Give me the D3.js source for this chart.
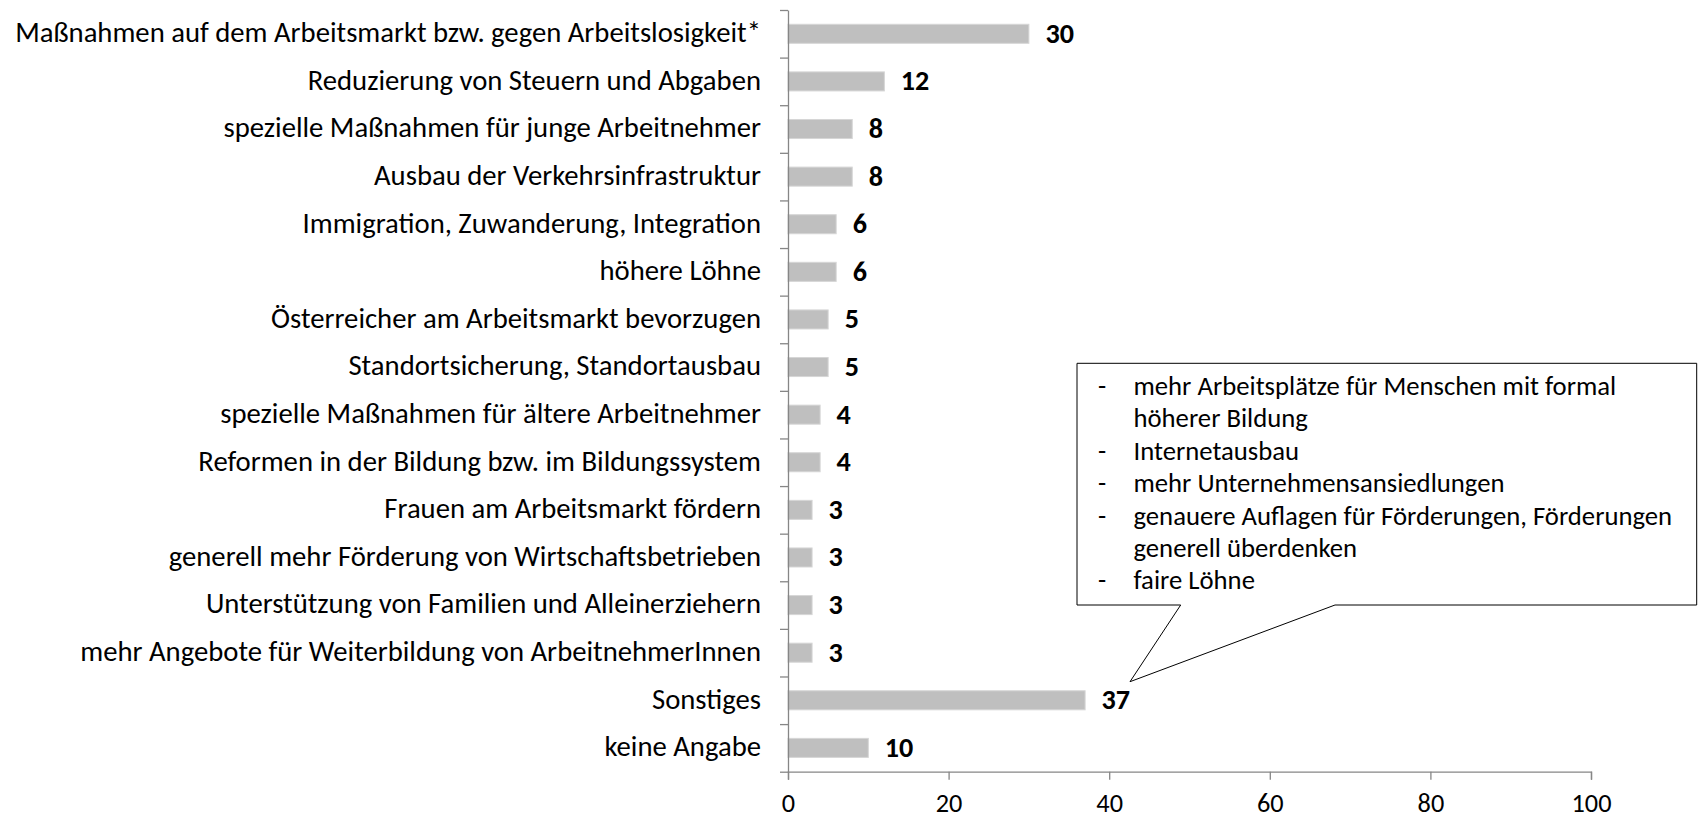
<!DOCTYPE html>
<html>
<head>
<meta charset="utf-8">
<script src="https://cdn.jsdelivr.net/npm/d3@7"></script>
<style>
  html, body { margin: 0; padding: 0; background: #fff; overflow: hidden; }
  svg { display: block; }
  text { font-family: Carlito, Calibri, Lato, "Open Sans", sans-serif; fill: #000; }
</style>
</head>
<body>
<svg id="chart" width="1701" height="820"></svg>
<script>
// ---- data ----
const categories = [
  "Maßnahmen auf dem Arbeitsmarkt bzw. gegen Arbeitslosigkeit*",
  "Reduzierung von Steuern und Abgaben",
  "spezielle Maßnahmen für junge Arbeitnehmer",
  "Ausbau der Verkehrsinfrastruktur",
  "Immigration, Zuwanderung, Integration",
  "höhere Löhne",
  "Österreicher am Arbeitsmarkt bevorzugen",
  "Standortsicherung, Standortausbau",
  "spezielle Maßnahmen für ältere Arbeitnehmer",
  "Reformen in der Bildung bzw. im Bildungssystem",
  "Frauen am Arbeitsmarkt fördern",
  "generell mehr Förderung von Wirtschaftsbetrieben",
  "Unterstützung von Familien und Alleinerziehern",
  "mehr Angebote für Weiterbildung von ArbeitnehmerInnen",
  "Sonstiges",
  "keine Angabe"
];
const values = [30, 12, 8, 8, 6, 6, 5, 5, 4, 4, 3, 3, 3, 3, 37, 10];
const xTicks = [0, 20, 40, 60, 80, 100];
const calloutBullets = ["-", "", "-", "-", "-", "", "-"];
const calloutLines = [
  "mehr Arbeitsplätze für Menschen mit formal",
  "höherer Bildung",
  "Internetausbau",
  "mehr Unternehmensansiedlungen",
  "genauere Auflagen für Förderungen, Förderungen",
  "generell überdenken",
  "faire Löhne"
];

// ---- layout ----
const plot = { left: 788, right: 1591, top: 10, bottom: 771.7 };
const svg = d3.select("#chart");

const x = d3.scaleLinear().domain([0, 100]).range([plot.left, plot.right]);
const y = d3.scaleBand().domain(categories).range([plot.top, plot.bottom]).padding(0);
const yIdx = d3.scaleLinear().domain([0, categories.length]).range([plot.top, plot.bottom]);
const barFrac = 0.4;

function fitFont(sel, node, target) {
  sel.style("font-size", "100px");
  const w = node.getComputedTextLength();
  const size = 100 * target / w;
  sel.style("font-size", size + "px");
  return size;
}

// bars
svg.append("g").selectAll("rect")
  .data(values)
  .join("rect")
  .attr("x", x(0))
  .attr("y", (d, i) => y(categories[i]) + y.bandwidth() * (1 - barFrac) / 2)
  .attr("width", d => x(d) - x(0))
  .attr("height", y.bandwidth() * barFrac)
  .attr("fill", "#bfbfbf")
  .attr("stroke", "#d6d6d6")
  .attr("stroke-width", 1);

// y axis (ticks between categories)
const yAxis = svg.append("g")
  .attr("transform", `translate(${plot.left},0)`)
  .call(d3.axisLeft(yIdx).tickValues(d3.range(0, categories.length + 1)).tickFormat("").tickSize(8).tickSizeOuter(0));
yAxis.selectAll("path, line").attr("stroke", "#868686").attr("stroke-width", 1.3);

// x axis
const xAxis = svg.append("g")
  .attr("transform", `translate(0,${plot.bottom})`)
  .call(d3.axisBottom(x).tickValues(xTicks).tickSize(8).tickSizeOuter(8).tickPadding(0));
xAxis.selectAll("path, line").attr("stroke", "#868686").attr("stroke-width", 1.3);
const xt = xAxis.selectAll(".tick text")
  .attr("y", 40.5).attr("dy", 0)
  .attr("fill", "#000")
  .style("font-family", "Carlito, Calibri, Lato, sans-serif");
fitFont(xt, xt.filter(d => d === 100).node(), 40);

// category labels
const catLabels = svg.append("g").selectAll("text")
  .data(categories)
  .join("text")
  .attr("x", plot.left - 27)
  .attr("y", d => y(d) + y.bandwidth() / 2 + 8.3)
  .attr("text-anchor", "end")
  .text(d => d);
fitFont(catLabels, catLabels.filter((d, i) => i === 0).node(), 746);

// value labels
const valLabels = svg.append("g").selectAll("text")
  .data(values)
  .join("text")
  .attr("x", d => x(d) + 16.5)
  .attr("y", (d, i) => y(categories[i]) + y.bandwidth() / 2 + 9)
  .style("font-weight", "bold")
  .text(d => d);
fitFont(valLabels, valLabels.filter((d, i) => i === 0).node(), 28.5);

// callout
const box = { left: 1077, top: 363.3, right: 1696.7, bottom: 605 };
const pointer = { baseL: 1180.7, baseR: 1335, tipX: 1130, tipY: 681.7 };
const p = d3.path();
p.moveTo(box.left, box.top);
p.lineTo(box.right, box.top);
p.lineTo(box.right, box.bottom);
p.lineTo(pointer.baseR, box.bottom);
p.lineTo(pointer.tipX, pointer.tipY);
p.lineTo(pointer.baseL, box.bottom);
p.lineTo(box.left, box.bottom);
p.closePath();
svg.append("path").attr("d", p.toString())
  .attr("fill", "#fff").attr("stroke", "#000").attr("stroke-width", 1);

const lineY0 = 395, lineStep = 32.4;
const cl = svg.append("g").selectAll("text")
  .data(calloutLines)
  .join("text")
  .attr("x", 1133.5)
  .attr("y", (d, i) => lineY0 + i * lineStep)
  .text(d => d);
const cSize = fitFont(cl, cl.filter((d, i) => i === 4).node(), 539);
svg.append("g").selectAll("text")
  .data(calloutBullets)
  .join("text")
  .attr("x", 1098)
  .attr("y", (d, i) => lineY0 + i * lineStep)
  .style("font-size", cSize + "px")
  .text(d => d);
</script>
</body>
</html>
